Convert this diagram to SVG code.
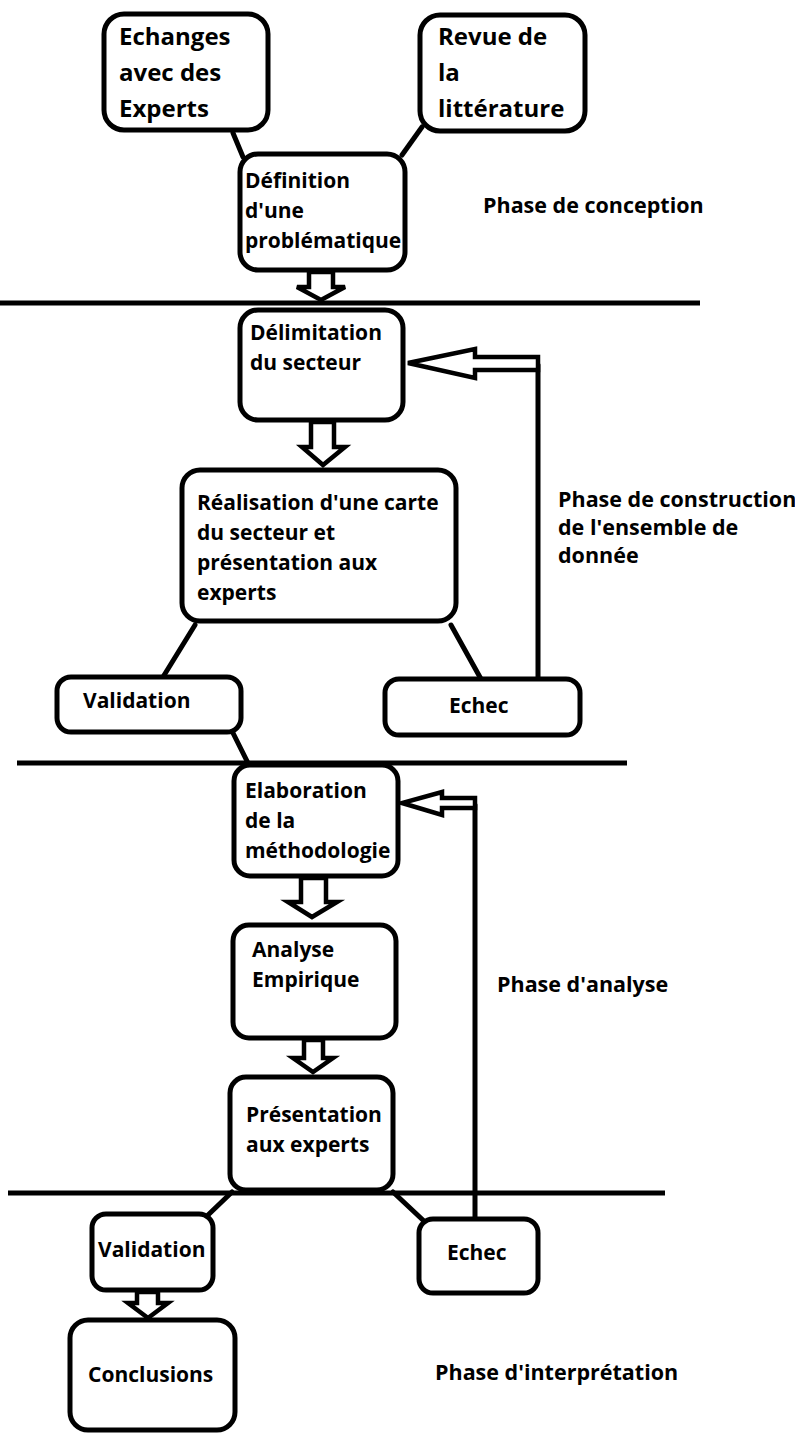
<svg xmlns="http://www.w3.org/2000/svg" width="795" height="1434" viewBox="0 0 795 1434">
<style>
.box{fill:#fff;stroke:#000;stroke-width:5}
.ln{stroke:#000;stroke-width:5;fill:none;stroke-linecap:round}
.hl{stroke:#000;stroke-width:5;fill:none}
.ar{fill:#fff;stroke:#000;stroke-width:4.5;stroke-linejoin:miter}
text{font-family:"Open Sans","Liberation Sans",sans-serif;font-weight:bold;font-size:21px;fill:#000}
.big{font-size:24px}
.ph{font-size:21.5px}
</style>
<rect width="795" height="1434" fill="#fff"/>
<g id="phase-lines">
<line class="hl" x1="0" y1="303" x2="700" y2="303"/>
<line class="hl" x1="17" y1="763" x2="627" y2="763"/>
<line class="hl" x1="8" y1="1193" x2="665" y2="1193"/>
</g>
<g id="connectors">
<line class="ln" x1="233" y1="133" x2="243" y2="157"/>
<line class="ln" x1="422" y1="127" x2="402" y2="155"/>
<line class="ln" x1="195" y1="625" x2="163" y2="677"/>
<line class="ln" x1="451" y1="625" x2="481" y2="679"/>
<line class="ln" x1="233" y1="733" x2="248" y2="763"/>
<line class="ln" x1="232" y1="1192" x2="208" y2="1215"/>
<line class="ln" x1="393" y1="1192" x2="425" y2="1222"/>
<line class="ln" x1="538" y1="365" x2="538" y2="679"/>
<line class="ln" x1="475" y1="805" x2="475" y2="1219"/>
<polygon class="ar" points="538,357 475,357 475,349 408,363 475,378 475,370 538,370"/>
<polygon class="ar" points="475,798 442,798 442,792 402,803 442,815 442,808 475,808"/>
<polygon class="ar" points="309,272 333,272 333,287 345,287 321,300 297,287 309,287"/>
<polygon class="ar" points="311,422 334,422 334,447 345,447 323,465 302,447 311,447"/>
<polygon class="ar" points="301,878 326,878 326,902 337,902 312,917 288,902 301,902"/>
<polygon class="ar" points="304,1040 323,1040 323,1058 333,1058 313,1072 293,1058 304,1058"/>
<polygon class="ar" points="137,1292 158,1292 158,1303 168,1303 148,1318 128,1303 137,1303"/>
</g>
<g id="echanges">
<rect class="box" x="104" y="14" width="164" height="116" rx="20"/>
<text class="big" x="119" y="45">Echanges</text>
<text class="big" x="119" y="81">avec des</text>
<text class="big" x="119" y="117">Experts</text>
</g>
<g id="revue">
<rect class="box" x="420" y="15" width="165" height="116" rx="20"/>
<text class="big" x="438" y="45">Revue de</text>
<text class="big" x="438" y="81">la</text>
<text class="big" x="438" y="117">littérature</text>
</g>
<g id="definition">
<rect class="box" x="240" y="154" width="165" height="116" rx="18"/>
<text x="245" y="188">Définition</text>
<text x="245" y="218">d'une</text>
<text x="245" y="248">problématique</text>
</g>
<g id="delimitation">
<rect class="box" x="240" y="310" width="163" height="110" rx="18"/>
<text x="250" y="340">Délimitation</text>
<text x="250" y="370">du secteur</text>
</g>
<g id="realisation">
<rect class="box" x="182" y="470" width="274" height="151" rx="18"/>
<text x="197" y="510">Réalisation d'une carte</text>
<text x="197" y="540">du secteur et</text>
<text x="197" y="570">présentation aux</text>
<text x="197" y="600">experts</text>
</g>
<g id="validation1">
<rect class="box" x="57" y="677" width="184" height="55" rx="14"/>
<text x="83" y="708">Validation</text>
</g>
<g id="echec1">
<rect class="box" x="385" y="679" width="195" height="56" rx="14"/>
<text x="449" y="713">Echec</text>
</g>
<g id="elaboration">
<rect class="box" x="234" y="765" width="164" height="111" rx="16"/>
<text x="245" y="798">Elaboration</text>
<text x="245" y="828">de la</text>
<text x="245" y="858">méthodologie</text>
</g>
<g id="analyse">
<rect class="box" x="233" y="925" width="163" height="113" rx="16"/>
<text x="252" y="957">Analyse</text>
<text x="252" y="987">Empirique</text>
</g>
<g id="presentation">
<rect class="box" x="230" y="1077" width="163" height="113" rx="16"/>
<text x="246" y="1122">Présentation</text>
<text x="246" y="1152">aux experts</text>
</g>
<g id="validation2">
<rect class="box" x="92" y="1214" width="121" height="76" rx="14"/>
<text x="98" y="1257">Validation</text>
</g>
<g id="echec2">
<rect class="box" x="419" y="1219" width="119" height="74" rx="14"/>
<text x="447" y="1260">Echec</text>
</g>
<g id="conclusions">
<rect class="box" x="70" y="1320" width="165" height="110" rx="18"/>
<text x="88" y="1382">Conclusions</text>
</g>
<g id="phase-labels">
<text class="ph" x="483" y="213">Phase de conception</text>
<text class="ph" x="558" y="507">Phase de construction</text>
<text class="ph" x="558" y="535">de l'ensemble de</text>
<text class="ph" x="558" y="563">donnée</text>
<text class="ph" x="497" y="992">Phase d'analyse</text>
<text class="ph" x="435" y="1380">Phase d'interprétation</text>
</g>
</svg>
